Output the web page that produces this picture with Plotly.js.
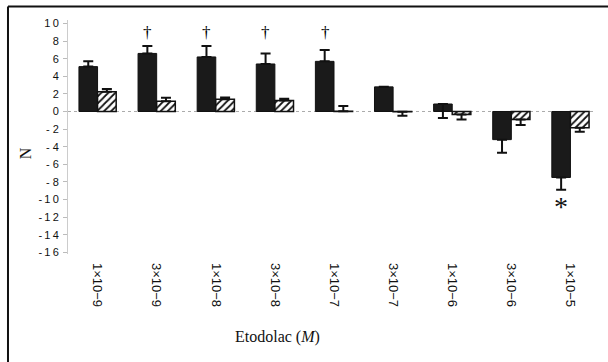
<!DOCTYPE html>
<html><head><meta charset="utf-8">
<script src="https://cdn.plot.ly/plotly-3.0.1.min.js"></script>
<style>html,body{margin:0;padding:0;background:#fff}#chart{width:608px;height:362px}</style>
</head><body><div id="chart"></div>
<script>
const categories = ['1×10−9','3×10−9','1×10−8','3×10−8','1×10−7','3×10−7','1×10−6','3×10−6','1×10−5'];
const blackValues = [5.1, 6.6, 6.2, 5.4, 5.7, 2.8, 0.85, -3.2, -7.5];
const blackErrPlus = [0.6, 0.85, 1.25, 1.2, 1.3, 0, 0, 0, 0];
const blackErrMinus = [0, 0, 0, 0, 0, 0, 1.6, 1.5, 1.4];
const hatchValues = [2.25, 1.15, 1.4, 1.25, 0.03, -0.03, -0.35, -0.9, -1.85];
const hatchErrPlus = [0.3, 0.4, 0.2, 0.2, 0.6, 0, 0, 0, 0];
const hatchErrMinus = [0, 0, 0, 0, 0, 0.45, 0.55, 0.65, 0.45];
const yTickVals = [10, 8, 6, 4, 2, 0, -2, -4, -6, -8, -10, -12, -14, -16];
const yTickText = ['1\u20090','8','6','4','2','0','- 2','- 4','- 6','- 8','-\u20091\u20090','-\u20091\u20092','-\u20091\u20094','-\u20091\u20096'];
const daggerCats = ['3×10−9','1×10−8','3×10−8','1×10−7'];
const asteriskCats = ['1×10−5'];

const errStyle = {color:'#111', thickness:2, width:5};
const traces = [
  {type:'bar', x:categories, y:blackValues, marker:{color:'#1a1a1a', line:{color:'#111', width:1}},
   error_y:Object.assign({type:'data', symmetric:false, array:blackErrPlus, arrayminus:blackErrMinus, visible:true}, errStyle)},
  {type:'bar', x:categories, y:hatchValues,
   marker:{color:'#fff', line:{color:'#111', width:1.5}, pattern:{shape:'/', fgcolor:'#111', bgcolor:'#fff', size:5, solidity:0.35}},
   error_y:Object.assign({type:'data', symmetric:false, array:hatchErrPlus, arrayminus:hatchErrMinus, visible:true}, errStyle)}
];

const annotations = [];
daggerCats.forEach(c => annotations.push({x:c, y:9.0, xref:'x', yref:'y', text:'†', showarrow:false, xshift:-9,
  font:{family:'Liberation Serif', size:17, color:'#000000'}}));
asteriskCats.forEach(c => {
  const i = categories.indexOf(c);
  annotations.push({x:c, y:blackValues[i]-blackErrMinus[i]-1.9, xref:'x', yref:'y', text:'*', showarrow:false, xshift:-9,
    font:{family:'Liberation Serif', size:28, color:'#111'}});
});
annotations.push({xref:'paper', yref:'paper', x:0.393, y:-0.40, xanchor:'center', text:'Etodolac (<i>M</i>)', showarrow:false,
  font:{family:'Liberation Serif', size:16, color:'#111'}});
annotations.push({xref:'paper', yref:'paper', x:-0.081, y:0.43, xanchor:'center', yanchor:'middle', text:'N', textangle:-90, showarrow:false,
  font:{family:'Liberation Serif', size:16, color:'#111'}});

const layout = {
  width:608, height:362,
  margin:{l:68, r:8, t:20, b:108},
  paper_bgcolor:'#fff', plot_bgcolor:'#fff',
  barmode:'group', bargap:0.37, bargroupgap:0,
  showlegend:false,
  font:{family:'Liberation Sans, Arial, sans-serif', color:'#111'},
  xaxis:{type:'category', tickangle:90, showline:false, showgrid:false, zeroline:false, ticks:'',
    ticklabelstandoff:8,
    tickfont:{family:'Liberation Sans', size:13, color:'#111'}},
  yaxis:{range:[-16.2, 10.4], tickvals:yTickVals, ticktext:yTickText, showgrid:false, zeroline:false,
    showline:true, linecolor:'#ccc', linewidth:1, ticks:'outside', ticklen:4, tickcolor:'#bbb',
    ticklabelstandoff:2,
    tickfont:{family:'Liberation Sans', size:11, color:'#111'}},
  shapes:[
    {type:'line', xref:'paper', yref:'y', x0:0, x1:0.99, y0:0, y1:0, line:{color:'#aaa', width:1, dash:'dot'}, layer:'below'},
    {type:'line', xref:'paper', yref:'paper', x0:-0.1128, x1:1.02, y0:1.0575, y1:1.0575, line:{color:'#111', width:2}},
    {type:'line', xref:'paper', yref:'paper', x0:-0.1128, x1:-0.1128, y0:1.0575, y1:-0.5, line:{color:'#111', width:2}}
  ],
  annotations:annotations
};
Plotly.newPlot('chart', traces, layout, {displayModeBar:false, staticPlot:true});
</script></body></html>
